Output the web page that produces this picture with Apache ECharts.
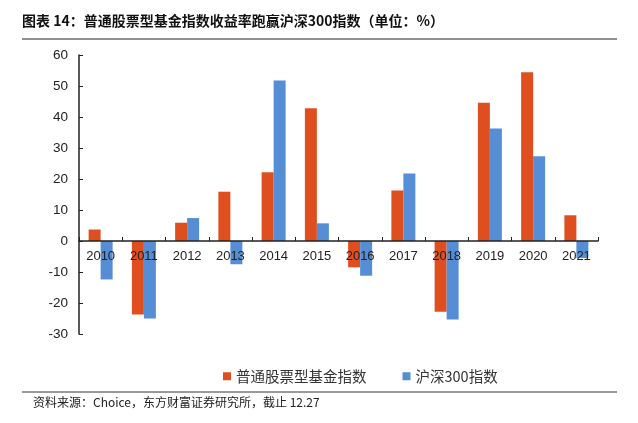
<!DOCTYPE html>
<html><head><meta charset="utf-8">
<script src="https://cdn.jsdelivr.net/npm/echarts@6/dist/echarts.min.js"></script>
<style>html,body{margin:0;padding:0;background:#fff}#c{width:638px;height:423px}</style>
</head><body><div id="c"></div>
<script>
const categories = ['2010','2011','2012','2013','2014','2015','2016','2017','2018','2019','2020','2021'];
const fundIndex = [3.7, -23.7, 5.9, 15.9, 22.2, 42.8, -8.5, 16.3, -22.8, 44.6, 54.4, 8.3];
const hs300 = [-12.4, -25.0, 7.4, -7.5, 51.8, 5.7, -11.2, 21.8, -25.3, 36.3, 27.3, -5.5];
const yTicks = {min: -30, max: 60, interval: 10};

const chart = echarts.init(document.getElementById('c'));
const cjk = '"Noto Sans CJK SC", sans-serif';
chart.setOption({
  animation: false,
  backgroundColor: '#fff',
  title: {
    text: '图表 14：普通股票型基金指数收益率跑赢沪深300指数（单位：%）',
    left: 17, top: 9,
    textStyle: {fontFamily: cjk, fontSize: 14, fontWeight: 'bold', color: '#111'}
  },
  graphic: [
    {type: 'line', shape: {x1: 22, y1: 39, x2: 617, y2: 39}, style: {stroke: '#222', lineWidth: 1.2}},
    {type: 'line', shape: {x1: 22, y1: 392, x2: 617, y2: 392}, style: {stroke: '#999', lineWidth: 2}},
    {type: 'text', left: 33, top: 396, style: {text: '资料来源：Choice，东方财富证券研究所，截止 12.27', font: '12px "Noto Sans CJK SC"', fill: '#222'}}
  ],
  legend: {
    top: 364, left: 218,
    itemWidth: 8, itemHeight: 8, itemGap: 36,
    icon: 'rect',
    textStyle: {fontFamily: cjk, fontSize: 14.5, color: '#333'},
    data: ['普通股票型基金指数', '沪深300指数']
  },
  grid: {left: 79, right: 40, top: 55, bottom: 89},
  xAxis: {
    type: 'category', data: categories, z: 5,
    axisLine: {onZero: true, lineStyle: {color: '#222', width: 1.5}},
    axisTick: {show: true, inside: true, length: 4, lineStyle: {color: '#222'}},
    axisLabel: {fontFamily: 'Liberation Sans, Arial', fontSize: 13, color: '#222', margin: -84}
  },
  yAxis: {
    type: 'value', min: yTicks.min, max: yTicks.max, interval: yTicks.interval,
    splitLine: {show: false},
    axisLine: {show: true, lineStyle: {color: '#222', width: 1.5}},
    axisTick: {show: true, inside: true, length: 4, lineStyle: {color: '#222'}},
    axisLabel: {fontFamily: 'Liberation Sans, Arial', fontSize: 13.5, color: '#222', margin: 11}
  },
  series: [
    {name: '普通股票型基金指数', type: 'bar', data: fundIndex, barWidth: 12, barGap: '0%', itemStyle: {color: '#DF4E1F'}},
    {name: '沪深300指数', type: 'bar', data: hs300, barWidth: 12, barGap: '0%', itemStyle: {color: '#558ED5'}}
  ]
});
</script></body></html>
